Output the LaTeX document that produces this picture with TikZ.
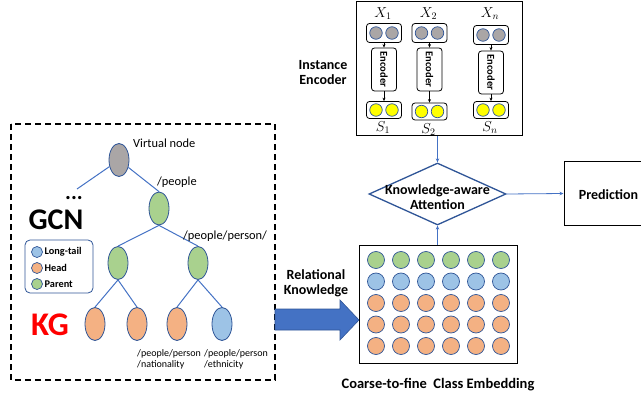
\documentclass[tikz,border=0pt]{standalone}
\usepackage{fontspec}
\setmainfont{Carlito}
\usetikzlibrary{shapes.geometric,arrows.meta}
\definecolor{obl}{RGB}{68,114,196}
\definecolor{dbl}{RGB}{47,85,151}
\definecolor{cgray}{RGB}{170,166,166}
\definecolor{cgreen}{RGB}{169,209,142}
\definecolor{corange}{RGB}{244,177,131}
\definecolor{cblue}{RGB}{157,195,230}
\definecolor{cyellow}{RGB}{255,255,0}
\definecolor{kgred}{RGB}{255,0,0}
\begin{document}
\begin{tikzpicture}[x=1pt,y=-1pt,
  tn/.style={ellipse,draw=dbl,line width=0.8pt,minimum width=20pt,minimum height=33pt,inner sep=0pt},
  tl/.style={draw=obl,line width=1pt},
  lc/.style={circle,draw=dbl,line width=0.7pt,minimum size=11pt,inner sep=0pt},
  ec/.style={circle,draw=dbl,line width=0.7pt,minimum size=17pt,inner sep=0pt},
  pc/.style={circle,draw=dbl,line width=0.7pt,minimum size=12.5pt,inner sep=0pt},
  pill/.style={draw=black,line width=0.8pt,rounded corners=3pt,minimum width=35pt,minimum height=19pt,inner sep=0pt},
  bpill/.style={draw=black,line width=0.8pt,rounded corners=3pt,minimum width=35pt,minimum height=17pt,inner sep=0pt},
  encb/.style={draw=black,line width=0.8pt,rounded corners=3pt,minimum width=25pt,minimum height=43pt,inner sep=0pt,font=\fontsize{10.5}{11}\selectfont\bfseries},
  iar/.style={-{Stealth[length=3.5pt,width=3pt]},line width=0.6pt,black},
  bar/.style={-{Stealth[length=4pt,width=3.5pt]},line width=0.8pt,draw=obl},
  bt/.style={font=\fontsize{14}{15}\selectfont\bfseries,align=center},
  nt/.style={font=\fontsize{12.4}{14}\selectfont},
  st/.style={font=\fontsize{10}{11}\selectfont,align=left,anchor=north west,inner sep=0pt},
  lt/.style={font=\fontsize{10.3}{11}\selectfont\bfseries,anchor=west,inner sep=0pt}
]
\useasboundingbox (0,0) rectangle (641,396);
\clip (0,0) rectangle (641,396);

% ---------- KG dashed box ----------
\draw[line width=1.1pt,dash pattern=on 6pt off 4pt] (11,124) rectangle (275,380);

% tree nodes
\node[tn,fill=cgray] (v) at (119,160) {};
\node[tn,fill=cgreen] (p) at (159,208.5) {};
\node[tn,fill=cgreen] (pl) at (118,263) {};
\node[tn,fill=cgreen] (pr) at (198,263) {};
\node[tn,fill=corange] (l1) at (95,324) {};
\node[tn,fill=corange] (l2) at (137,324) {};
\node[tn,fill=corange] (l3) at (177,324) {};
\node[tn,fill=cblue] (l4) at (222,324) {};
\coordinate (dend) at (77,189);

\draw[tl] (v) -- (dend);
\draw[tl] (v) -- (p.north);
\draw[tl] (p.south) -- (pl.north);
\draw[tl] (p.south) -- (pr.north);
\draw[tl] (pl.south) -- (l1.north);
\draw[tl] (pl.south) -- (l2.north);
\draw[tl] (pr.south) -- (l3.north);
\draw[tl] (pr.south) -- (l4.north);

\node[nt,anchor=west,inner sep=0pt] (vt) at (133,143) {Virtual node};
\node[nt,anchor=west,inner sep=0pt] (pt) at (157,182) {/people};
\node[nt,anchor=west,inner sep=0pt] (ppt) at (183,236) {/people/person/};
\node[font=\fontsize{22}{22}\selectfont\bfseries,inner sep=0pt] (dots) at (74,198) {...};
\node[font=\fontsize{30}{30}\selectfont\bfseries,inner sep=0pt] (gcn) at (56,220) {GCN};
\node[font=\fontsize{33}{33}\selectfont\bfseries,text=kgred,inner sep=0pt] (kg) at (50,325) {KG};
\node[st] (lab1) at (137,349) {/people/person\\/nationality};
\node[st] (lab2) at (204,349) {/people/person\\/ethnicity};

% legend
\node[draw=dbl,line width=0.8pt,rounded corners=5pt,minimum width=68pt,minimum height=53pt] (leg) at (59,266.5) {};
\node[lc,fill=cblue] (g1) at (37,252) {};
\node[lc,fill=corange] (g2) at (37,268) {};
\node[lc,fill=cgreen] (g3) at (37,284) {};
\node[lt] (gt1) at (44.5,252) {Long-tail};
\node[lt] (gt2) at (44.5,268) {Head};
\node[lt] (gt3) at (44.5,284) {Parent};

% ---------- big arrow ----------
\fill[fill=obl,draw=dbl,line width=0.6pt] (275,309) -- (340,309) -- (340,300) -- (359,320) -- (340,340) -- (340,330) -- (275,330) -- cycle;
\node[bt] (rk) at (316,283.5) {Relational\\Knowledge};

% ---------- class embedding ----------
\node[draw=black,line width=1pt,minimum width=158pt,minimum height=118pt,inner sep=0pt] (emb) at (438,304) {};
\foreach \r/\yy/\cc in {1/260/cgreen,2/281.5/cblue,3/303/corange,4/324.5/corange,5/346/corange}{
  \foreach \c in {0,...,5}{
    \node[ec,fill=\cc] (e\r\c) at (376+25*\c,\yy) {};
  }
}
\node[bt,font=\fontsize{14.5}{15}\selectfont\bfseries] (cap) at (438,385) {Coarse-to-fine\ \ Class Embedding};

% ---------- attention ----------
\node[diamond,draw=dbl,line width=1.3pt,minimum width=137pt,minimum height=62pt,inner sep=0pt,fill=white] (att) at (437.5,194) {};
\node[bt] (attt) at (437.5,197.5) {Knowledge-aware\\Attention};

% ---------- prediction ----------
\node[draw=black,line width=1pt,minimum width=89pt,minimum height=63pt,inner sep=0pt] (pred) at (608.5,193.5) {};
\node[bt] (predt) at (608.5,195) {Prediction};

% ---------- instance encoder ----------
\node[draw=black,line width=1pt,minimum width=166pt,minimum height=134pt,inner sep=0pt] (enc) at (439,69) {};
\node[bt] (enct) at (323,73) {Instance\\Encoder};

\foreach \i/\xx/\ty/\ey/\by/\lab in {1/384/33/69.5/110/1,2/429.5/33/69.5/111.5/2,3/491/35/72.5/110/n}{
  \node[pill] (t\i) at (\xx,\ty) {};
  \node[pc,fill=cgray] at (\xx-8,\ty) {};
  \node[pc,fill=cgray] at (\xx+8,\ty) {};
  \node[encb] (n\i) at (\xx,\ey) {\rotatebox{-90}{Encoder}};
  \node[bpill] (b\i) at (\xx,\by) {};
  \node[pc,fill=cyellow] at (\xx-8,\by) {};
  \node[pc,fill=cyellow] at (\xx+8,\by) {};
  \node[font=\fontsize{14}{14}\selectfont,inner sep=0pt] (x\i) at (\xx-1,14) {$X_{\lab}$};
  \node[font=\fontsize{14}{14}\selectfont,inner sep=0pt] (s\i) at (\xx-1,\by+18) {$S_{\lab}$};
  \draw[iar] (t\i.south) -- (n\i.north);
  \draw[iar] (n\i.south) -- (b\i.north);
}

% ---------- connectors ----------
\draw[bar] (emb.north -| att.south) -- (att.south);
\draw[bar] (enc.south -| att.north) -- (att.north);
\draw[bar] (att.east) -- (pred.west);
\end{tikzpicture}
\end{document}
